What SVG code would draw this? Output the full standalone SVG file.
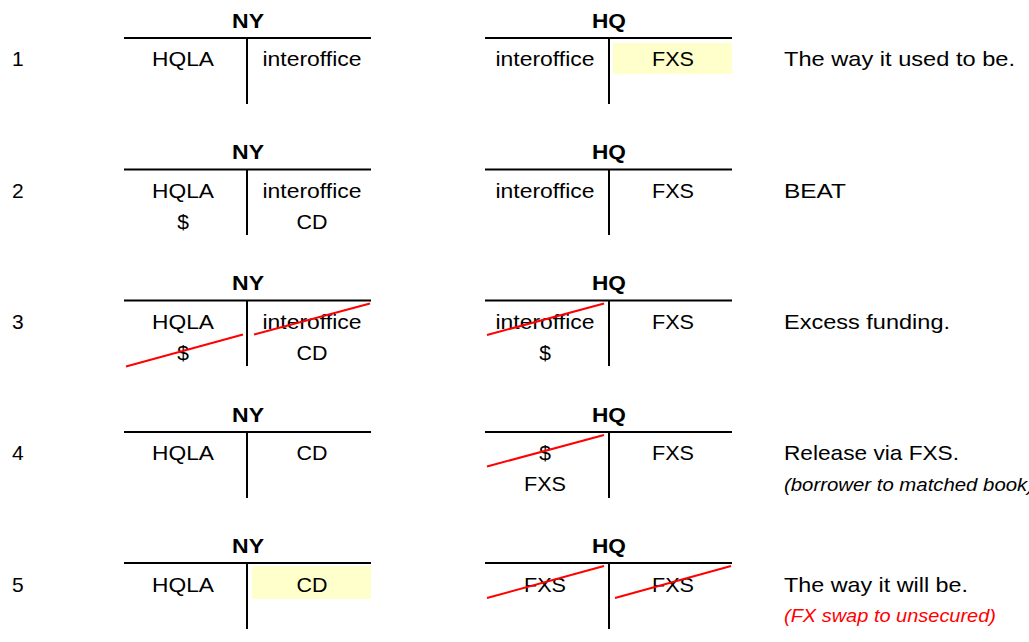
<svg xmlns="http://www.w3.org/2000/svg" width="1029" height="642" viewBox="0 0 1029 642">
<style>
text{font-family:"Liberation Sans",Arial,Helvetica,sans-serif;font-size:21px;fill:#000}
.c{text-anchor:middle}
.h{font-weight:bold}
.n{text-anchor:start}
.it{font-style:italic;font-size:18.5px}
.red{fill:#ff0000}
.rule{stroke:#000;stroke-width:2;fill:none}
.strike{stroke:#ff0000;stroke-width:2}
.hl{fill:#ffffcc}
</style>
<rect width="1029" height="642" fill="#fff"/>

<!-- Row 1 (L=38) -->
<g id="row1">
<text class="n" x="12" y="66">1</text>
<g id="ny1">
<text class="c h" x="248" y="28" textLength="32" lengthAdjust="spacingAndGlyphs">NY</text>
<line class="rule" x1="124" y1="38" x2="371" y2="38"/>
<line class="rule" x1="247" y1="38" x2="247" y2="104"/>
<text class="c" x="183" y="66" textLength="62" lengthAdjust="spacingAndGlyphs">HQLA</text>
<text class="c" x="312" y="66" textLength="99" lengthAdjust="spacingAndGlyphs">interoffice</text>
</g>
<g id="hq1">
<rect class="hl" x="613" y="43" width="119" height="31"/>
<text class="c h" x="609" y="28" textLength="34" lengthAdjust="spacingAndGlyphs">HQ</text>
<line class="rule" x1="485" y1="38" x2="732" y2="38"/>
<line class="rule" x1="609" y1="38" x2="609" y2="104"/>
<text class="c" x="545" y="66" textLength="99" lengthAdjust="spacingAndGlyphs">interoffice</text>
<text class="c" x="673" y="66" textLength="42" lengthAdjust="spacingAndGlyphs">FXS</text>
</g>
<text id="note1" x="784" y="66" textLength="231" lengthAdjust="spacingAndGlyphs">The way it used to be.</text>
</g>

<!-- Row 2 (L=169.25) -->
<g id="row2">
<text class="n" x="12" y="198">2</text>
<g id="ny2">
<text class="c h" x="248" y="159" textLength="32" lengthAdjust="spacingAndGlyphs">NY</text>
<line class="rule" x1="124" y1="169.5" x2="371" y2="169.5"/>
<line class="rule" x1="247" y1="169.5" x2="247" y2="235"/>
<text class="c" x="183" y="198" textLength="62" lengthAdjust="spacingAndGlyphs">HQLA</text>
<text class="c" x="183" y="229">$</text>
<text class="c" x="312" y="198" textLength="99" lengthAdjust="spacingAndGlyphs">interoffice</text>
<text class="c" x="312" y="229" textLength="31" lengthAdjust="spacingAndGlyphs">CD</text>
</g>
<g id="hq2">
<text class="c h" x="609" y="159" textLength="34" lengthAdjust="spacingAndGlyphs">HQ</text>
<line class="rule" x1="485" y1="169.5" x2="732" y2="169.5"/>
<line class="rule" x1="609" y1="169.5" x2="609" y2="235"/>
<text class="c" x="545" y="198" textLength="99" lengthAdjust="spacingAndGlyphs">interoffice</text>
<text class="c" x="673" y="198" textLength="42" lengthAdjust="spacingAndGlyphs">FXS</text>
</g>
<text id="note2" x="784" y="198" textLength="62" lengthAdjust="spacingAndGlyphs">BEAT</text>
</g>

<!-- Row 3 (L=300.5) -->
<g id="row3">
<text class="n" x="12" y="329">3</text>
<g id="ny3">
<text class="c h" x="248" y="290" textLength="32" lengthAdjust="spacingAndGlyphs">NY</text>
<line class="rule" x1="124" y1="300.5" x2="371" y2="300.5"/>
<line class="rule" x1="247" y1="300.5" x2="247" y2="366"/>
<text class="c" x="183" y="329" textLength="62" lengthAdjust="spacingAndGlyphs">HQLA</text>
<text class="c" x="183" y="360">$</text>
<text class="c" x="312" y="329" textLength="99" lengthAdjust="spacingAndGlyphs">interoffice</text>
<text class="c" x="312" y="360" textLength="31" lengthAdjust="spacingAndGlyphs">CD</text>
</g>
<g id="hq3">
<text class="c h" x="609" y="290" textLength="34" lengthAdjust="spacingAndGlyphs">HQ</text>
<line class="rule" x1="485" y1="300.5" x2="732" y2="300.5"/>
<line class="rule" x1="609" y1="300.5" x2="609" y2="366"/>
<text class="c" x="545" y="329" textLength="99" lengthAdjust="spacingAndGlyphs">interoffice</text>
<text class="c" x="545" y="360">$</text>
<text class="c" x="673" y="329" textLength="42" lengthAdjust="spacingAndGlyphs">FXS</text>
</g>
<text id="note3" x="784" y="329" textLength="166" lengthAdjust="spacingAndGlyphs">Excess funding.</text>
</g>

<!-- Row 4 (L=431.75) -->
<g id="row4">
<text class="n" x="12" y="460">4</text>
<g id="ny4">
<text class="c h" x="248" y="422" textLength="32" lengthAdjust="spacingAndGlyphs">NY</text>
<line class="rule" x1="124" y1="432" x2="371" y2="432"/>
<line class="rule" x1="247" y1="432" x2="247" y2="498"/>
<text class="c" x="183" y="460" textLength="62" lengthAdjust="spacingAndGlyphs">HQLA</text>
<text class="c" x="312" y="460" textLength="31" lengthAdjust="spacingAndGlyphs">CD</text>
</g>
<g id="hq4">
<text class="c h" x="609" y="422" textLength="34" lengthAdjust="spacingAndGlyphs">HQ</text>
<line class="rule" x1="485" y1="432" x2="732" y2="432"/>
<line class="rule" x1="609" y1="432" x2="609" y2="498"/>
<text class="c" x="545" y="460">$</text>
<text class="c" x="545" y="491" textLength="42" lengthAdjust="spacingAndGlyphs">FXS</text>
<text class="c" x="673" y="460" textLength="42" lengthAdjust="spacingAndGlyphs">FXS</text>
</g>
<text id="note4" x="784" y="460" textLength="175" lengthAdjust="spacingAndGlyphs">Release via FXS.</text>
<text id="note4b" class="it" x="784" y="491" textLength="250" lengthAdjust="spacingAndGlyphs">(borrower to matched book)</text>
</g>

<!-- Row 5 (L=563) -->
<g id="row5">
<text class="n" x="12" y="592">5</text>
<g id="ny5">
<rect class="hl" x="252" y="566" width="119" height="33"/>
<text class="c h" x="248" y="553" textLength="32" lengthAdjust="spacingAndGlyphs">NY</text>
<line class="rule" x1="124" y1="563" x2="371" y2="563"/>
<line class="rule" x1="247" y1="563" x2="247" y2="629"/>
<text class="c" x="183" y="592" textLength="62" lengthAdjust="spacingAndGlyphs">HQLA</text>
<text class="c" x="312" y="592" textLength="31" lengthAdjust="spacingAndGlyphs">CD</text>
</g>
<g id="hq5">
<text class="c h" x="609" y="553" textLength="34" lengthAdjust="spacingAndGlyphs">HQ</text>
<line class="rule" x1="485" y1="563" x2="732" y2="563"/>
<line class="rule" x1="609" y1="563" x2="609" y2="629"/>
<text class="c" x="545" y="592" textLength="42" lengthAdjust="spacingAndGlyphs">FXS</text>
<text class="c" x="673" y="592" textLength="42" lengthAdjust="spacingAndGlyphs">FXS</text>
</g>
<text id="note5" x="784" y="592" textLength="184" lengthAdjust="spacingAndGlyphs">The way it will be.</text>
<text id="note5b" class="it red" x="784" y="622" textLength="212" lengthAdjust="spacingAndGlyphs">(FX swap to unsecured)</text>
</g>

<!-- strike-through connectors -->
<g id="strikes">
<line class="strike" x1="126" y1="366.5" x2="243" y2="334.5"/>
<line class="strike" x1="254" y1="334.5" x2="370" y2="303.5"/>
<line class="strike" x1="487" y1="335" x2="604" y2="303.5"/>
<line class="strike" x1="487" y1="466.5" x2="604" y2="435"/>
<line class="strike" x1="487" y1="598" x2="604" y2="566"/>
<line class="strike" x1="615" y1="598" x2="731" y2="566"/>
</g>
</svg>
